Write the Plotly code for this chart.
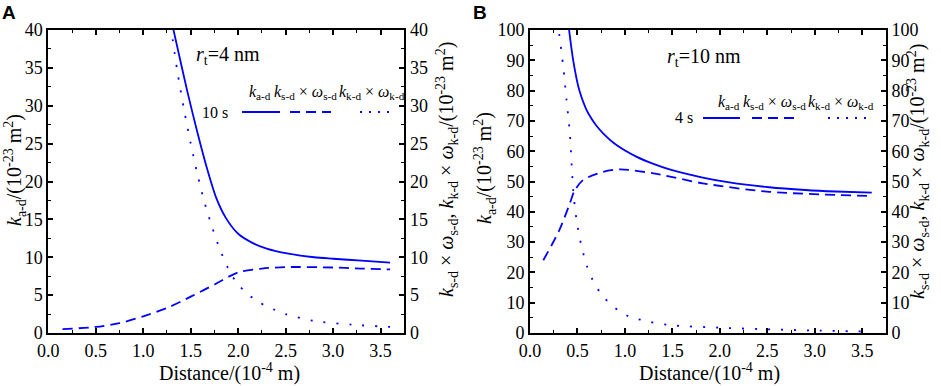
import plotly.graph_objects as go

W, H = 941, 386

# ---------------- data ----------------
# Panel A  (r_t = 4 nm, 10 s)
a_solid_x = [1.31, 1.39, 1.47, 1.57, 1.67, 1.77, 1.87, 2.00, 2.15, 2.30, 2.50, 2.80, 3.00, 3.30, 3.60]
a_solid_y = [40.5, 36.0, 31.6, 26.5, 21.8, 17.8, 15.2, 13.1, 11.9, 11.15, 10.55, 10.0, 9.8, 9.55, 9.3]
a_dash_x = [0.15, 0.50, 0.75, 1.00, 1.25, 1.50, 1.75, 2.00, 2.25, 2.50, 3.00, 3.30, 3.60]
a_dash_y = [0.5, 0.8, 1.3, 2.2, 3.3, 4.8, 6.4, 8.0, 8.5, 8.7, 8.65, 8.5, 8.4]
a_dot_x = [1.29, 1.36, 1.43, 1.50, 1.57, 1.64, 1.72, 1.80, 1.90, 2.00, 2.20, 2.50, 2.80, 3.20, 3.60]
a_dot_y = [40.5, 34.5, 29.5, 25.0, 21.0, 17.5, 14.2, 11.3, 8.4, 6.4, 4.2, 2.5, 1.6, 1.1, 0.8]

# Panel B  (r_t = 10 nm, 4 s)
b_solid_x = [0.41, 0.455, 0.52, 0.59, 0.65, 0.70, 0.77, 0.90, 1.12, 1.30, 1.47, 1.82, 2.10, 2.52, 2.90, 3.22, 3.60]
b_solid_y = [100.5, 90.0, 80.0, 74.0, 70.6, 68.4, 65.9, 62.3, 58.2, 55.8, 54.0, 51.3, 49.7, 48.1, 47.2, 46.7, 46.3]
b_dash_x = [0.14, 0.31, 0.42, 0.47, 0.56, 0.77, 0.95, 1.30, 1.82, 2.52, 3.60]
b_dash_y = [24.0, 34.0, 42.8, 47.0, 50.5, 53.2, 54.0, 52.7, 49.4, 46.6, 45.2]
b_dot_x = [0.29, 0.35, 0.385, 0.42, 0.44, 0.455, 0.49, 0.54, 0.60, 0.66, 0.77, 0.95, 1.05, 1.26, 1.47, 2.00, 2.52, 3.04, 3.57]
b_dot_y = [103.0, 87.9, 76.9, 65.9, 55.0, 47.2, 37.3, 29.0, 22.0, 17.5, 12.0, 7.0, 5.4, 3.7, 2.6, 1.76, 1.2, 0.8, 0.43]

x_ticks = [0.0, 0.5, 1.0, 1.5, 2.0, 2.5, 3.0, 3.5]

BLUE = "#0000FF"
SERIF = "Liberation Serif, Times New Roman, serif"
DASH = "10px,6px"
DOT = "2px,11px"
DOT_LEG = "2px,7px"

fig = go.Figure()

def line(x, y, xa, ya, dash):
    fig.add_trace(go.Scatter(x=x, y=y, xaxis=xa, yaxis=ya, mode="lines",
                             line=dict(color=BLUE, width=1.8, dash=dash, shape="spline", smoothing=0.8),
                             showlegend=False, hoverinfo="skip"))

line(a_solid_x, a_solid_y, "x", "y", "solid")
line(a_dash_x, a_dash_y, "x", "y2", DASH)
line(a_dot_x, a_dot_y, "x", "y2", DOT)
line(b_solid_x, b_solid_y, "x2", "y3", "solid")
line(b_dash_x, b_dash_y, "x2", "y4", DASH)
line(b_dot_x, b_dot_y, "x2", "y4", DOT)

tickfont = dict(family=SERIF, size=18, color="black")
common = dict(showline=True, linecolor="black", linewidth=2, ticks="inside", ticklen=5,
              tickwidth=1.5, tickcolor="black", showgrid=False, zeroline=False,
              tickfont=tickfont, automargin=False)

ydom = [1 - 333 / H, 1 - 30 / H]
xdomA = [48.3 / W, 404.3 / W]
xdomB = [530 / W, 886 / W]

xcommon = dict(common, range=[0, 3.75], tickvals=x_ticks, tickformat=".1f", mirror="ticks",
               minor=dict(ticks="inside", ticklen=3, dtick=0.25, tick0=0, tickcolor="black", tickwidth=1.2))

def yminor(d):
    return dict(ticks="inside", ticklen=3, dtick=d, tickcolor="black", tickwidth=1.2)

fig.update_layout(
    width=W, height=H, margin=dict(l=0, r=0, t=0, b=0),
    paper_bgcolor="white", plot_bgcolor="white",
    font=dict(family=SERIF, color="black"),
    xaxis=dict(xcommon, domain=xdomA, anchor="y"),
    yaxis=dict(common, domain=ydom, range=[0, 40], dtick=5, anchor="x", minor=yminor(2.5)),
    yaxis2=dict(common, overlaying="y", side="right", range=[0, 40], dtick=5, anchor="x", minor=yminor(2.5)),
    xaxis2=dict(xcommon, domain=xdomB, anchor="y3"),
    yaxis3=dict(common, domain=ydom, range=[0, 100], dtick=10, anchor="x2", minor=yminor(5)),
    yaxis4=dict(common, overlaying="y3", side="right", range=[0, 100], dtick=10, anchor="x2", minor=yminor(5)),
)

def px(p):
    return p / W

def py(p):
    return 1 - p / H

ann = []
def text(t, x, y, size=20, xanchor="center", yanchor="middle", angle=0, family=SERIF):
    ann.append(dict(text=t, x=px(x), y=py(y), xref="paper", yref="paper", showarrow=False,
                    xanchor=xanchor, yanchor=yanchor, textangle=angle,
                    font=dict(family=family, size=size, color="black")))

# panel letters
text("<b>A</b>", 0, 0, size=19, xanchor="left", yanchor="top", family="Liberation Sans, Arial, sans-serif")
text("<b>B</b>", 471, 0, size=19, xanchor="left", yanchor="top", family="Liberation Sans, Arial, sans-serif")

# x titles
xtitle = "Distance/(10<sup>-4</sup> m)"
text(xtitle, 229, 372, size=20)
text(xtitle, 709, 372, size=20)

# y titles
ltitle = "<i>k</i><sub>a-d</sub>/(10<sup>-23</sup> m<sup>2</sup>)"
rtitle = ("<i>k</i><sub>s-d</sub> × <i>ω</i><sub>s-d</sub>, <i>k</i><sub>k-d</sub> × "
          "<i>ω</i><sub>k-d</sub>/(10<sup>-23</sup> m<sup>2</sup>)")
text(ltitle, 15, 170, size=20, angle=-90)
text(ltitle, 485, 168, size=20, angle=-90)
text(rtitle, 447, 170, size=20, angle=-90)
text(rtitle, 918, 172, size=20, angle=-90)

# r_t annotations
text("<i>r</i><sub>t</sub>=4 nm", 194, 56, size=20, xanchor="left")
text("<i>r</i><sub>t</sub>=10 nm", 665, 58, size=20, xanchor="left")

# legends (headers + sample lines)
hk = ["<i>k</i><sub>a-d</sub>", "<i>k</i><sub>s-d</sub> × <i>ω</i><sub>s-d</sub>",
      "<i>k</i><sub>k-d</sub> × <i>ω</i><sub>k-d</sub>"]
text(hk[0], 247, 93, size=16, xanchor="left")
text(hk[1], 272, 93, size=16, xanchor="left")
text(hk[2], 337, 93, size=16, xanchor="left")
text("10 s", 230, 113, size=16, xanchor="right")

text(hk[0], 716, 102, size=16, xanchor="left")
text(hk[1], 741, 102, size=16, xanchor="left")
text(hk[2], 806, 102, size=16, xanchor="left")
text("4 s", 695, 118, size=16, xanchor="right")

shapes = []
def seg(x0, x1, y, dash):
    shapes.append(dict(type="line", xref="paper", yref="paper", x0=px(x0), x1=px(x1),
                       y0=py(y), y1=py(y), line=dict(color=BLUE, width=1.8, dash=dash)))

seg(242, 280, 112, "solid")
seg(290, 331, 112, DASH)
seg(360, 394, 112, DOT_LEG)
seg(703, 740, 118, "solid")
seg(752, 794, 118, DASH)
seg(828, 868, 118, DOT_LEG)

fig.update_layout(annotations=ann, shapes=shapes)

fig.write_html("out.html", config={"displayModeBar": False},
               post_script="document.body.style.margin='0';")
